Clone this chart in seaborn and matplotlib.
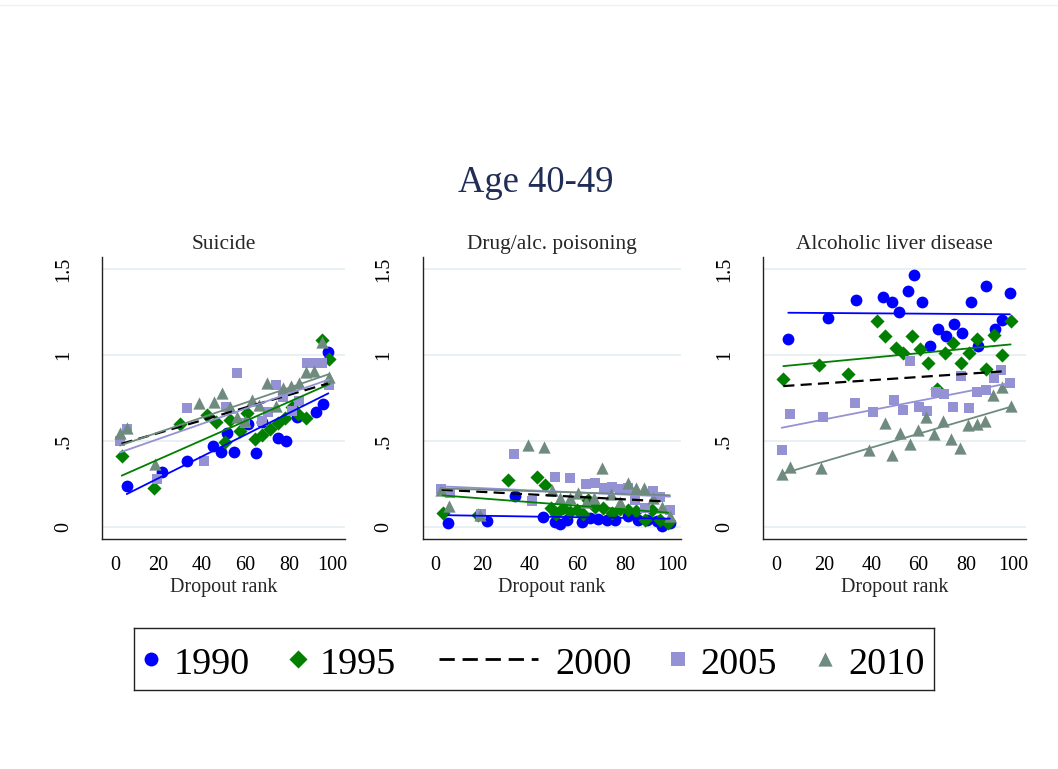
import matplotlib
matplotlib.use("Agg")
import matplotlib.pyplot as plt
from matplotlib.lines import Line2D
import seaborn as sns

# ---------------------------------------------------------------- data
years = ["1990", "1995", "2000", "2005", "2010"]
panel_titles = ["Suicide", "Drug/alc. poisoning", "Alcoholic liver disease"]
x_ticks = [0, 20, 40, 60, 80, 100]
y_ticks = [0, 0.5, 1, 1.5]
y_tick_labels = ["0", ".5", "1", "1.5"]

# Suicide
suicide_1990_rank = [5.4, 21.5, 33.3, 44.9, 48.6, 51.4, 54.9, 61.4, 64.7, 67.5, 74.9, 78.5, 83.6, 92.3, 95.9, 98.2]
suicide_1990_rate = [0.24, 0.32, 0.385, 0.47, 0.435, 0.55, 0.435, 0.60, 0.43, 0.61, 0.52, 0.50, 0.64, 0.67, 0.715, 1.02]
suicide_1995_rank = [3.1, 17.9, 29.9, 42.5, 46.5, 50.6, 52.9, 57.3, 60.8, 64.2, 67.5, 71.3, 75.0, 78.2, 81.3, 84.2, 87.9, 95.1, 98.7]
suicide_1995_rate = [0.415, 0.226, 0.60, 0.65, 0.613, 0.495, 0.623, 0.562, 0.665, 0.51, 0.536, 0.57, 0.604, 0.633, 0.70, 0.66, 0.636, 1.09, 0.975]
suicide_2005_rank = [2.3, 5.4, 19.5, 33.3, 40.9, 51.2, 56.3, 59.8, 67.5, 70.6, 74.2, 77.5, 81.3, 84.7, 88.2, 91.8, 95.1, 98.4]
suicide_2005_rate = [0.503, 0.568, 0.278, 0.69, 0.387, 0.70, 0.894, 0.607, 0.615, 0.67, 0.826, 0.759, 0.674, 0.735, 0.952, 0.952, 0.952, 0.826]
suicide_2010_rank = [2.3, 5.7, 18.4, 38.8, 45.5, 49.1, 52.8, 56.0, 59.6, 62.9, 66.2, 69.8, 73.9, 77.3, 80.9, 84.6, 88.0, 91.5, 95.1, 98.6]
suicide_2010_rate = [0.55, 0.575, 0.37, 0.724, 0.73, 0.778, 0.70, 0.643, 0.618, 0.742, 0.713, 0.836, 0.702, 0.81, 0.823, 0.84, 0.90, 0.907, 1.075, 0.875]
# fitted lines: [start, end] per year (1990, 1995, 2000, 2005, 2010)
suicide_fit_rank = [[5.4, 98.2], [3.1, 98.7], [3.0, 98.0], [2.3, 98.4], [2.3, 98.6]]
suicide_fit_rate = [[0.193, 0.778], [0.30, 0.832], [0.485, 0.835], [0.435, 0.858], [0.475, 0.89]]

# Drug/alcohol poisoning
drug_1990_rank = [5.6, 22.0, 33.7, 45.3, 50.5, 52.5, 55.4, 61.7, 65.2, 68.7, 72.2, 75.7, 81.3, 85.2, 89.0, 93.2, 95.6, 98.8]
drug_1990_rate = [0.027, 0.038, 0.18, 0.062, 0.03, 0.02, 0.042, 0.033, 0.055, 0.05, 0.042, 0.04, 0.065, 0.04, 0.042, 0.035, 0.01, 0.023]
drug_1995_rank = [3.2, 18.2, 30.9, 42.8, 46.3, 49.0, 51.0, 54.0, 56.8, 59.6, 62.4, 64.5, 67.3, 70.8, 74.3, 77.8, 81.3, 84.5, 88.3, 91.5, 94.7, 98.1]
drug_1995_rate = [0.085, 0.07, 0.275, 0.29, 0.245, 0.11, 0.08, 0.11, 0.09, 0.10, 0.08, 0.16, 0.12, 0.11, 0.085, 0.105, 0.10, 0.095, 0.045, 0.10, 0.04, 0.025]
drug_2005_rank = [2.4, 6.3, 19.2, 33.4, 40.8, 50.3, 56.7, 63.6, 67.3, 71.0, 74.3, 78.0, 81.3, 84.3, 88.3, 91.8, 94.7, 98.9]
drug_2005_rate = [0.22, 0.20, 0.075, 0.425, 0.15, 0.29, 0.285, 0.25, 0.255, 0.23, 0.236, 0.22, 0.23, 0.16, 0.11, 0.21, 0.175, 0.10]
drug_2010_rank = [2.4, 6.0, 18.9, 39.3, 46.0, 49.3, 52.8, 56.8, 60.0, 63.5, 67.0, 70.4, 74.2, 77.7, 81.0, 84.4, 88.0, 91.7, 95.4, 98.8]
drug_2010_rate = [0.217, 0.124, 0.071, 0.48, 0.468, 0.218, 0.168, 0.17, 0.198, 0.147, 0.168, 0.345, 0.196, 0.147, 0.255, 0.226, 0.226, 0.173, 0.115, 0.068]
drug_fit_rank = [[5.6, 98.8], [3.2, 98.1], [2.8, 97.0], [2.4, 98.9], [2.4, 98.8]]
drug_fit_rate = [[0.07, 0.05], [0.185, 0.085], [0.218, 0.15], [0.238, 0.178], [0.226, 0.186]]

# Alcoholic liver disease
liver_1990_rank = [4.9, 21.6, 33.4, 45.1, 48.6, 51.7, 55.4, 58.2, 61.6, 64.8, 68.3, 71.6, 75.1, 78.5, 82.1, 85.2, 88.5, 92.3, 95.1, 98.6]
liver_1990_rate = [1.091, 1.217, 1.32, 1.335, 1.31, 1.252, 1.374, 1.465, 1.31, 1.053, 1.15, 1.11, 1.178, 1.13, 1.31, 1.053, 1.403, 1.15, 1.204, 1.358]
liver_1995_rank = [2.8, 18.0, 30.3, 42.3, 45.8, 50.3, 53.5, 57.1, 60.6, 64.1, 67.6, 71.1, 74.4, 77.8, 81.4, 84.8, 88.5, 92.0, 95.1, 98.9]
liver_1995_rate = [0.859, 0.942, 0.89, 1.2, 1.111, 1.039, 1.014, 1.111, 1.033, 0.956, 0.806, 1.01, 1.068, 0.952, 1.014, 1.091, 0.917, 1.117, 1.0, 1.2]
liver_2005_rank = [2.1, 5.6, 19.4, 33.1, 40.9, 49.8, 53.2, 56.4, 60.3, 63.6, 67.4, 70.8, 74.4, 78.0, 81.5, 84.6, 88.4, 91.8, 95.0, 98.6]
liver_2005_rate = [0.449, 0.658, 0.642, 0.724, 0.671, 0.737, 0.681, 0.965, 0.70, 0.676, 0.787, 0.776, 0.70, 0.88, 0.691, 0.787, 0.797, 0.865, 0.916, 0.839]
liver_2010_rank = [2.1, 5.6, 18.6, 39.2, 45.6, 48.9, 52.2, 56.4, 59.7, 63.2, 66.6, 70.1, 73.9, 77.4, 80.9, 84.7, 88.2, 91.5, 95.4, 99.0]
liver_2010_rate = [0.309, 0.352, 0.342, 0.449, 0.603, 0.418, 0.548, 0.486, 0.565, 0.638, 0.543, 0.615, 0.512, 0.46, 0.593, 0.60, 0.617, 0.769, 0.817, 0.705]
liver_fit_rank = [[4.9, 98.6], [2.8, 98.9], [2.8, 95.1], [2.1, 98.6], [2.1, 99.0]]
liver_fit_rate = [[1.246, 1.237], [0.936, 1.062], [0.82, 0.905], [0.578, 0.838], [0.31, 0.70]]

# ---------------------------------------------------------------- style
sns.set_style("white")
plt.rcParams["font.family"] = ["Liberation Serif", "DejaVu Serif"]
plt.rcParams["lines.scale_dashes"] = True

W, H = 1058, 769
colors = {"1990": "#0000ff", "1995": "#007f00", "2000": "#000000",
          "2005": "#9591d5", "2010": "#6f8b80"}
markers = {"1990": "o", "1995": "D", "2005": "s", "2010": "^"}
sizes = {"1990": 72, "1995": 52, "2005": 62, "2010": 78}
grid_color = "#e7eff2"
title_color = "#1f2d57"


def px_rect(left, top, right, bottom):
    return [left / W, 1 - bottom / H, (right - left) / W, (bottom - top) / H]


fig = plt.figure(figsize=(W / 100, H / 100), dpi=100)

# faint outer frame line along the top of the graph region
fig.add_artist(Line2D([0, 1], [1 - 5 / H, 1 - 5 / H], transform=fig.transFigure,
                      color="#f0f0f0", linewidth=1.0))

panels = [
    dict(title=panel_titles[0], rect=(102.3, 256.7, 345.0, 539.3), xlim=(-5.84, 105.84),
         scatter={"1990": (suicide_1990_rank, suicide_1990_rate),
                  "1995": (suicide_1995_rank, suicide_1995_rate),
                  "2005": (suicide_2005_rank, suicide_2005_rate),
                  "2010": (suicide_2010_rank, suicide_2010_rate)},
         fit=(suicide_fit_rank, suicide_fit_rate)),
    dict(title=panel_titles[1], rect=(422.7, 256.7, 681.0, 539.3), xlim=(-5.17, 103.5),
         scatter={"1990": (drug_1990_rank, drug_1990_rate),
                  "1995": (drug_1995_rank, drug_1995_rate),
                  "2005": (drug_2005_rank, drug_2005_rate),
                  "2010": (drug_2010_rank, drug_2010_rate)},
         fit=(drug_fit_rank, drug_fit_rate)),
    dict(title=panel_titles[2], rect=(763.0, 256.7, 1026.0, 539.3), xlim=(-5.79, 105.4),
         scatter={"1990": (liver_1990_rank, liver_1990_rate),
                  "1995": (liver_1995_rank, liver_1995_rate),
                  "2005": (liver_2005_rank, liver_2005_rate),
                  "2010": (liver_2010_rank, liver_2010_rate)},
         fit=(liver_fit_rank, liver_fit_rate)),
]

for p in panels:
    ax = fig.add_axes(px_rect(*p["rect"]))
    # markers
    for yr, (rank, rate) in p["scatter"].items():
        sns.scatterplot(x=rank, y=rate, ax=ax, color=colors[yr], marker=markers[yr],
                        s=sizes[yr], linewidth=0, legend=False, zorder=3)
    # linear fits
    fit_rank, fit_rate = p["fit"]
    for i, yr in enumerate(years):
        if yr == "2000":
            sns.lineplot(x=fit_rank[i], y=fit_rate[i], ax=ax, color=colors[yr], linewidth=1.6,
                         linestyle=(0, (5.0, 2.8)), legend=False, errorbar=None, zorder=4)
        else:
            sns.lineplot(x=fit_rank[i], y=fit_rate[i], ax=ax, color=colors[yr], linewidth=1.3,
                         legend=False, errorbar=None, zorder=4)

    ax.set_xlim(*p["xlim"])
    ax.set_ylim(-0.0697, 1.5714)
    ax.set_xticks(x_ticks)
    ax.set_xticklabels([str(t) for t in x_ticks])
    ax.set_yticks(y_ticks)
    ax.set_yticklabels(y_tick_labels, rotation=90, va="center")
    ax.tick_params(axis="both", direction="out", length=5, width=0.8, color="#333333",
                   labelsize=14.5, labelcolor="black")
    ax.tick_params(axis="y", pad=16)
    ax.tick_params(axis="x", pad=7)
    ax.grid(False)
    ax.yaxis.grid(True, color=grid_color, linewidth=1.3)
    ax.set_axisbelow(True)
    for side in ("top", "right"):
        ax.spines[side].set_visible(False)
    for side in ("left", "bottom"):
        ax.spines[side].set_color("#222222")
        ax.spines[side].set_linewidth(1.0)
    ax.set_xlabel("Dropout rank", fontsize=14.5, labelpad=2)
    ax.set_ylabel("")
    ax.set_title(p["title"], fontsize=15.4, pad=5.5)

fig.text(535.5 / W, 1 - 183 / H, "Age 40-49", ha="center", va="center",
         fontsize=26.3, color=title_color)

# ---------------------------------------------------------------- legend
lax = fig.add_axes(px_rect(134, 628, 934, 690))
lax.set_xlim(134, 934)
lax.set_ylim(690, 628)
lax.set_xticks([])
lax.set_yticks([])
for side in lax.spines.values():
    side.set_color("#222222")
    side.set_linewidth(1.0)

leg_marker_x = {"1990": 151, "1995": 298, "2005": 678, "2010": 825}
leg_marker_s = {"1990": 100, "1995": 85, "2005": 90, "2010": 105}
leg_text_x = {"1990": 174, "1995": 320, "2000": 555, "2005": 700, "2010": 848}
for yr in years:
    if yr == "2000":
        lax.plot([439, 538], [659, 659], color="black", linewidth=2.0,
                 linestyle=(0, (5.5, 2.8)))
    else:
        lax.scatter([leg_marker_x[yr]], [659], color=colors[yr], marker=markers[yr],
                    s=leg_marker_s[yr], linewidths=0)
    lax.text(leg_text_x[yr], 674, yr, ha="left", va="baseline", fontsize=27.5, color="black")

fig.savefig("out.png", dpi=100, facecolor="white")
